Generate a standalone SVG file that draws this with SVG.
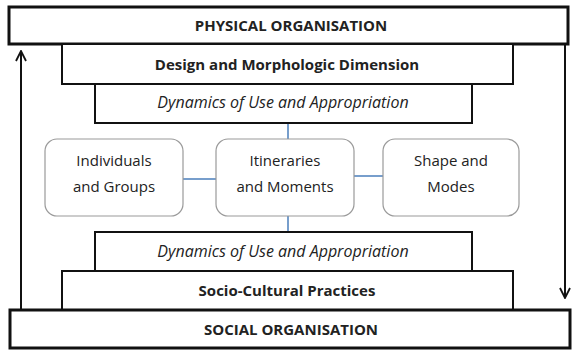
<svg xmlns="http://www.w3.org/2000/svg" width="572" height="350" viewBox="0 0 572 350">
  <defs>
    <style>
      .band { fill: #fff; stroke: #111; stroke-width: 2; }
      .outer { fill: #fff; stroke: #111; stroke-width: 3; }
      .node { fill: #fff; stroke: #9a9a9a; stroke-width: 1.2; }
      .t { font-family: "Open Sans", "Liberation Sans", sans-serif; fill: #222; text-anchor: middle; dominant-baseline: central; }
      .b { font-weight: bold; font-size: 15px; }
      .i { font-style: italic; font-size: 16px; }
      .n { font-size: 15px; }
      .link { stroke: #4a7ebb; stroke-width: 1.5; fill: none; }
      .flow { stroke: #111; stroke-width: 2; fill: none; }
    </style>
    <marker id="head" viewBox="0 0 12 12" refX="11" refY="6" markerWidth="12" markerHeight="12" orient="auto" markerUnits="userSpaceOnUse">
      <path d="M1,1 L11,6 L1,11" fill="none" stroke="#111" stroke-width="1.8"/>
    </marker>
  </defs>

  <!-- vertical flows between the two organisations -->
  <g id="connectors">
    <line class="flow" x1="21" y1="310" x2="21" y2="51" marker-end="url(#head)"/>
    <line class="flow" x1="565" y1="44" x2="565" y2="298" marker-end="url(#head)"/>
    <line class="link" x1="288" y1="123" x2="288" y2="139"/>
    <line class="link" x1="288" y1="216" x2="288" y2="232"/>
    <line class="link" x1="183" y1="179" x2="216" y2="179"/>
    <line class="link" x1="354" y1="176" x2="383" y2="176"/>
  </g>

  <!-- upper stack -->
  <g id="physical">
    <rect class="outer" x="9" y="7" width="559" height="37"/>
    <text class="t b" x="291" y="25">PHYSICAL ORGANISATION</text>
  </g>
  <g id="design">
    <rect class="band" x="62" y="44" width="451" height="40"/>
    <text class="t b" x="287" y="64">Design and Morphologic Dimension</text>
  </g>
  <g id="dynamics-top">
    <rect class="band" x="95" y="84" width="377" height="39"/>
    <text class="t i" x="283" y="102">Dynamics of Use and Appropriation</text>
  </g>

  <!-- middle nodes -->
  <g id="individuals">
    <rect class="node" x="45" y="139" width="138" height="77" rx="12"/>
    <text class="t n" x="114" y="160">Individuals</text>
    <text class="t n" x="114" y="186">and Groups</text>
  </g>
  <g id="itineraries">
    <rect class="node" x="216" y="139" width="138" height="77" rx="12"/>
    <text class="t n" x="285" y="160">Itineraries</text>
    <text class="t n" x="285" y="186">and Moments</text>
  </g>
  <g id="shape">
    <rect class="node" x="383" y="139" width="136" height="77" rx="12"/>
    <text class="t n" x="451" y="160">Shape and</text>
    <text class="t n" x="451" y="186">Modes</text>
  </g>

  <!-- lower stack -->
  <g id="dynamics-bottom">
    <rect class="band" x="95" y="232" width="377" height="39"/>
    <text class="t i" x="283" y="251">Dynamics of Use and Appropriation</text>
  </g>
  <g id="socio-cultural">
    <rect class="band" x="62" y="271" width="451" height="39"/>
    <text class="t b" x="287" y="290">Socio-Cultural Practices</text>
  </g>
  <g id="social">
    <rect class="outer" x="10" y="310" width="560" height="38"/>
    <text class="t b" x="291" y="329">SOCIAL ORGANISATION</text>
  </g>
</svg>
